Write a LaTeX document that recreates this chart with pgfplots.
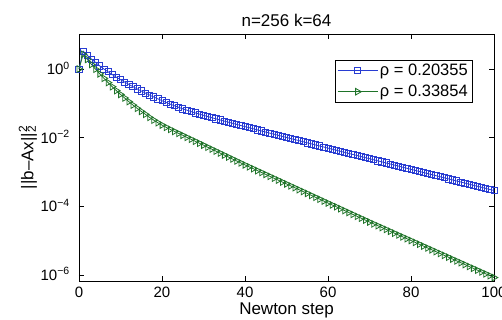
\documentclass[border=0pt]{standalone}
\usepackage{pgfplots}
\pgfplotsset{compat=1.18}
\usepackage{pgfplotstable}
\usepackage{fontspec}
\setmainfont{Liberation Sans}
\definecolor{bl}{RGB}{40,60,210}
\definecolor{gr}{RGB}{30,115,40}
\pgfplotstableread{
x b g
0 1 1
1 3.31 2.69
2 2.51 1.91
3 1.95 1.36
4 1.55 0.989
5 1.23 0.724
6 1.00 0.537
7 0.832 0.403
8 0.692 0.305
9 0.575 0.234
10 0.490 0.182
11 0.417 0.143
12 0.356 0.112
13 0.306 0.0891
14 0.264 0.0716
15 0.229 0.0582
16 0.199 0.0479
17 0.174 0.0389
18 0.153 0.0324
19 0.135 0.0272
20 0.119 0.0232
21 0.106 0.0200
22 0.0946 0.0174
23 0.0849 0.0152
24 0.0766 0.0133
25 0.0692 0.0117
26 0.0630 0.0102
27 0.0574 0.00895
28 0.0527 0.00785
29 0.0485 0.00687
30 0.0447 0.00603
31 0.0412 0.00527
32 0.0381 0.00462
33 0.0353 0.00405
34 0.0327 0.00355
35 0.0303 0.00310
36 0.0282 0.00272
37 0.0261 0.00238
38 0.0243 0.00209
39 0.0225 0.00183
40 0.0209 0.00160
41 0.0195 0.00141
42 0.0181 0.00124
43 0.0168 0.00109
44 0.0156 0.000962
45 0.0145 0.000845
46 0.0135 0.000745
47 0.0126 0.000655
48 0.0117 0.000577
49 0.0109 0.000507
50 0.0101 0.000447
51 0.00942 0.000393
52 0.00877 0.000346
53 0.00817 0.000304
54 0.00759 0.000268
55 0.00706 0.000236
56 0.00658 0.000207
57 0.00612 0.000182
58 0.00570 0.000161
59 0.00531 0.000141
60 0.00494 0.000124
61 0.00460 0.000109
62 0.00429 9.64e-5
63 0.00399 8.47e-5
64 0.00372 7.46e-5
65 0.00346 6.56e-5
66 0.00323 5.78e-5
67 0.00301 5.08e-5
68 0.00280 4.48e-5
69 0.00261 3.94e-5
70 0.00243 3.47e-5
71 0.00226 3.06e-5
72 0.00210 2.70e-5
73 0.00196 2.39e-5
74 0.00182 2.11e-5
75 0.00170 1.86e-5
76 0.00158 1.64e-5
77 0.00148 1.45e-5
78 0.00137 1.28e-5
79 0.00128 1.13e-5
80 0.00119 1.00e-5
81 0.00111 8.83e-6
82 0.00103 7.80e-6
83 0.000962 6.89e-6
84 0.000895 6.08e-6
85 0.000834 5.37e-6
86 0.000778 4.74e-6
87 0.000724 4.19e-6
88 0.000675 3.70e-6
89 0.000628 3.27e-6
90 0.000585 2.88e-6
91 0.000545 2.55e-6
92 0.000507 2.25e-6
93 0.000472 1.99e-6
94 0.000440 1.75e-6
95 0.000409 1.55e-6
96 0.000382 1.37e-6
97 0.000356 1.21e-6
98 0.000331 1.07e-6
99 0.000308 9.42e-7
100 0.000287 8.32e-7
}\datatab
\begin{document}
\begin{tikzpicture}
\begin{axis}[
  name=ax,
  scale only axis, width=415pt, height=247pt,
  xmin=0, xmax=100, ymode=log, ymin=6.6e-7, ymax=10.5,
  clip=false,
  axis line style={line width=0.6pt},
  xtick={0,20,40,60,80,100},
  ytick={1e-6,1e-4,1e-2,1},
  yticklabels={10\textsuperscript{−6},10\textsuperscript{−4},10\textsuperscript{−2},10\textsuperscript{0}},
  yminorticks=false, xminorticks=false,
  tick align=inside, major tick length=5pt,
  tick style={black, line width=0.5pt},
  xtick pos=both, ytick pos=both,
  /pgf/number format/assume math mode=true,
  tick label style={font=\fontsize{15}{18}\selectfont},
  xticklabel style={anchor=base, inner sep=0pt, yshift=-16pt},
  yticklabel style={anchor=base east, inner sep=0pt, xshift=-9pt, yshift=-5.4pt},
  title={n=256 k=64},
  title style={at={(axis description cs:0.5,1)}, anchor=base, inner sep=0pt, yshift=1.5pt, font=\fontsize{17}{20}\selectfont},
  xlabel={Newton step},
  xlabel style={at={(0.5,0)}, anchor=base, inner sep=0pt, yshift=-33pt, font=\fontsize{17}{20}\selectfont},
  ylabel={||b–Ax||\rlap{\textsuperscript{2}}\textsubscript{2}},
  ylabel style={at={(axis description cs:-0.11,0.5)}, anchor=base, inner sep=0pt, font=\fontsize{17}{20}\selectfont},
  legend style={at={(0.947,0.895)}, anchor=north east, font=\fontsize{16.5}{19}\selectfont, draw=black, line width=0.5pt, inner sep=2pt, row sep=4pt},
  legend cell align=left,
  legend image code/.code={\draw[mark repeat=2,mark phase=2] plot coordinates {(0pt,0pt) (20pt,0pt) (40pt,0pt)};},
]
\addplot[bl, line width=0.8pt, mark=square, mark size=3.1pt, mark options={solid, line width=0.8pt}] table[x=x,y=b] {\datatab};
\addlegendentry{ρ = 0.20355}
\addplot[gr, line width=0.8pt, mark=triangle, mark size=3.8pt, mark options={solid, rotate=-90, line width=0.8pt}] table[x=x,y=g] {\datatab};
\addlegendentry{ρ = 0.33854}
\end{axis}
\pgfresetboundingbox
\path ([shift={(-79pt,-39pt)}]ax.south west) rectangle ([shift={(8pt,34pt)}]ax.north east);
\end{tikzpicture}
\end{document}
